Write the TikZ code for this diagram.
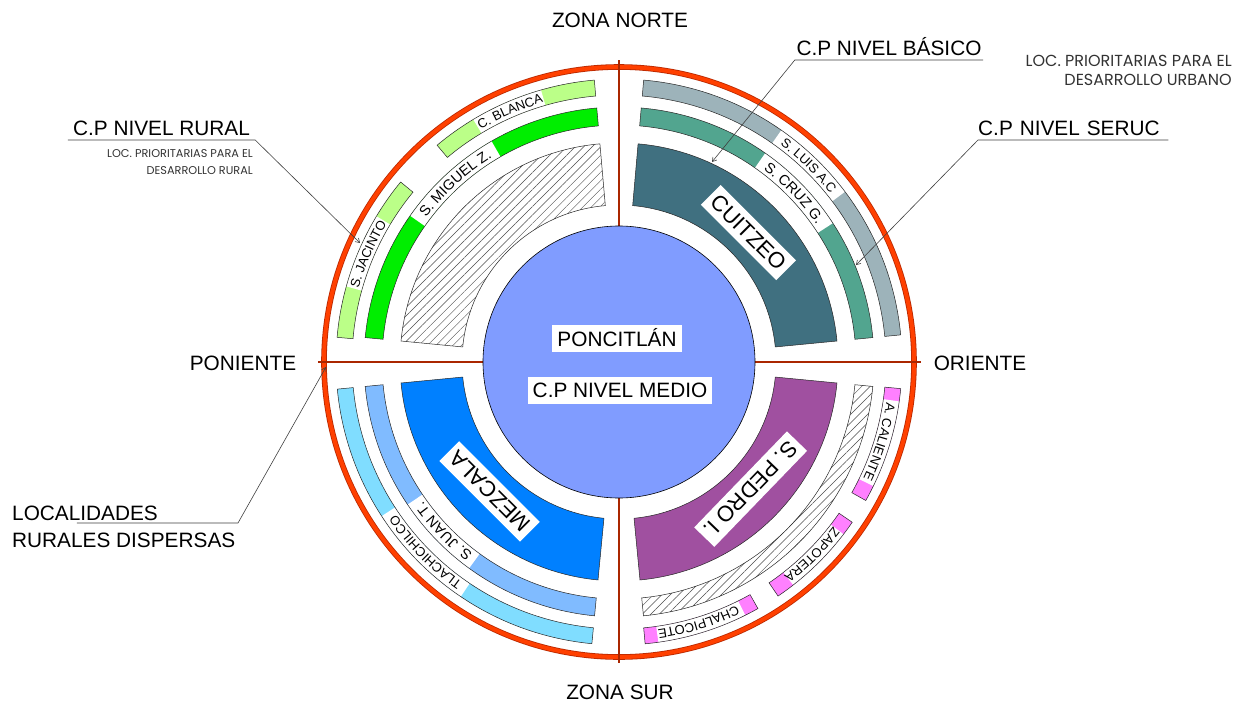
\documentclass[tikz,border=0pt]{standalone}
\usepackage{fontspec}
\setmainfont{Liberation Sans}
\newfontfamily\gothicfont{Poppins}
\usetikzlibrary{decorations.text,patterns.meta,arrows.meta}
\definecolor{ringred}{RGB}{255,64,0}
\definecolor{ringdark}{RGB}{185,40,0}
\definecolor{axisred}{RGB}{170,38,0}
\definecolor{centreblue}{RGB}{128,156,255}
\definecolor{cuitzeoc}{RGB}{64,112,128}
\definecolor{neMid}{RGB}{82,165,143}
\definecolor{neOut}{RGB}{157,179,186}
\definecolor{nwMid}{RGB}{0,238,0}
\definecolor{nwOut}{RGB}{187,255,136}
\definecolor{mezcalac}{RGB}{0,128,255}
\definecolor{swMid}{RGB}{128,187,255}
\definecolor{swOut}{RGB}{128,221,255}
\definecolor{pedroc}{RGB}{160,80,160}
\definecolor{sePink}{RGB}{255,128,255}
\newcommand\ringpiece[5]{\path[#5] (#3:#1) arc[start angle=#3,end angle=#4,radius=#1] -- (#4:#2) arc[start angle=#4,end angle=#3,radius=#2] -- cycle;}
\newcommand\arctext[5]{\path[decorate,decoration={text along path,text align=center,text={|\fontsize{#4}{#4}\selectfont|#5}}] (#2:#1) arc[start angle=#2,end angle=#3,radius=#1];}
\tikzset{
  outl/.style={draw=black!85, line width=0.5pt},
  hatch/.style={pattern={Lines[angle=45,distance=6pt,line width=0.45pt]}, pattern color=black!70},
  lbl/.style={font=\fontsize{20.8}{27}\selectfont, inner sep=0pt},
  whitebox/.style={fill=white, font=\fontsize{20.8}{22}\selectfont, inner xsep=5pt, inner ysep=0pt, minimum height=27pt},
  secbox/.style={fill=white, font=\fontsize{22}{24}\selectfont, inner xsep=5pt, inner ysep=0pt, minimum height=28pt},
  callout/.style={draw=black!75, line width=0.6pt},
  calloutarrow/.style={callout, -{Straight Barb[length=4pt,width=5pt]}},
  smallgothic/.style={align=right, inner sep=0pt, text=black!80},
}
\begin{document}
\begin{tikzpicture}[x=1pt,y=1pt]
\useasboundingbox (-619,-343) rectangle (627,362);
\fill[white] (-619,-343) rectangle (627,362);

% main sectors
\ringpiece{157}{219}{5.5}{85}{fill=cuitzeoc, outl}
\ringpiece{157}{219}{95}{174.5}{hatch, outl}
\ringpiece{157}{219}{185.5}{264.5}{fill=mezcalac, outl}
\ringpiece{157}{219}{275.5}{354.5}{fill=pedroc, outl}

% middle rings
\ringpiece{237}{255}{5.5}{85}{fill=neMid}
\ringpiece{237}{255}{33}{55}{fill=white}
\ringpiece{237}{255}{5.5}{85}{outl}
\ringpiece{237}{255}{95}{174.5}{fill=nwMid}
\ringpiece{237}{255}{120}{145}{fill=white}
\ringpiece{237}{255}{95}{174.5}{outl}
\ringpiece{237}{255}{185.5}{264.5}{fill=swMid}
\ringpiece{237}{255}{214}{234}{fill=white}
\ringpiece{237}{255}{185.5}{264.5}{outl}
\ringpiece{237}{255}{275.5}{354.5}{hatch, outl}

% outer rings
\ringpiece{267}{283}{5.5}{85}{fill=neOut}
\ringpiece{267}{283}{37}{55}{fill=white}
\ringpiece{267}{283}{5.5}{85}{outl}
\ringpiece{267}{283}{95}{130}{fill=nwOut}
\ringpiece{267}{283}{106}{121}{fill=white}
\ringpiece{267}{283}{95}{130}{outl}
\ringpiece{267}{283}{140.5}{175}{fill=nwOut}
\ringpiece{267}{283}{149}{164.5}{fill=white}
\ringpiece{267}{283}{140.5}{175}{outl}
\ringpiece{267}{283}{185.5}{264.5}{fill=swOut}
\ringpiece{267}{283}{213}{236}{fill=white}
\ringpiece{267}{283}{185.5}{264.5}{outl}
\ringpiece{267}{283}{330.7}{354.6}{fill=sePink}
\ringpiece{267}{283}{334}{352}{fill=white}
\ringpiece{267}{283}{330.7}{354.6}{outl}
\ringpiece{267}{283}{304.2}{325.5}{fill=sePink}
\ringpiece{267}{283}{308}{322.5}{fill=white}
\ringpiece{267}{283}{304.2}{325.5}{outl}
\ringpiece{267}{283}{275.3}{299.4}{fill=sePink}
\ringpiece{267}{283}{278}{296.5}{fill=white}
\ringpiece{267}{283}{275.3}{299.4}{outl}

% ring labels
\arctext{270.3}{60}{32}{13}{S. LUIS A.C}
\arctext{240.8}{60}{28}{14.5}{S. CRUZ G.}
\arctext{240.8}{150}{115}{14.5}{S. MIGUEL Z.}
\arctext{270.3}{126}{101}{13}{C. BLANCA}
\arctext{270.3}{169.5}{144}{13}{S. JACINTO}
\arctext{240.8}{239}{209}{14.5}{S. JUAN T.}
\arctext{270.3}{241}{208}{13}{TLACHICHILCO}
\arctext{270.3}{358}{328}{13}{A. CALIENTE}
\arctext{270.3}{330}{300}{13}{ZAPOTERA}
\arctext{270.3}{302}{272}{13}{CHALPICOTE}

% outer red circle and axes
\draw[ringdark, line width=5.6pt] (0,0) circle[radius=295];
\draw[ringred, line width=4pt] (0,0) circle[radius=295];
\draw[axisred, line width=2.6pt] (0,302) -- (0,-301);
\draw[axisred, line width=2.6pt] (-301,0) -- (302,0);

% centre
\fill[centreblue, draw=black, line width=0.6pt] (0,0) circle[radius=136];
\node[whitebox] (ponc) at (-2,24) {PONCITLÁN};
\node[whitebox] (medio) at (1,-28) {C.P NIVEL MEDIO};

% sector labels
\node[secbox, rotate=-45] (cuitzeo) at (45:183) {CUITZEO};
\node[secbox, rotate=135] (mezcala) at (225:183) {MEZCALA};
\node[secbox, rotate=226] (pedro) at (316:183) {S. PEDRO I.};

% zone labels
\node[lbl] (norte) at (1,342) {ZONA NORTE};
\node[lbl] (sur) at (1,-330) {ZONA SUR};
\node[lbl] (poniente) at (-376,-1) {PONIENTE};
\node[lbl] (oriente) at (361,-1) {ORIENTE};

% callouts
\coordinate (tRural) at (-259,119);
\coordinate (tBasico) at (93,200);
\coordinate (tSeruc) at (237,97);
\coordinate (tLoc) at (-293,-5);

\node[lbl, minimum width=187pt, anchor=south, inner ysep=4pt] (rural) at (-457.5,222) {C.P NIVEL RURAL};
\draw[calloutarrow] (rural.south west) -- (rural.south east) -- (tRural);
\node[smallgothic, font=\gothicfont\fontsize{11.3}{17}\selectfont, anchor=north east] (rurnote) at (-366,213) {LOC. PRIORITARIAS PARA EL\\DESARROLLO RURAL};

\node[lbl, minimum width=188pt, anchor=south, inner ysep=4pt] (basico) at (270,302) {C.P NIVEL BÁSICO};
\draw[calloutarrow] (basico.south east) -- (basico.south west) -- (tBasico);
\node[smallgothic, font=\gothicfont\fontsize{16}{19}\selectfont, anchor=north east] (urbnote) at (613,307) {LOC. PRIORITARIAS PARA EL\\DESARROLLO URBANO};

\node[lbl, text width=190pt, align=left, anchor=south west, inner ysep=4pt] (seruc) at (359,222) {C.P NIVEL SERUC};
\draw[calloutarrow] (seruc.south east) -- (seruc.south west) -- (tSeruc);

\node[lbl, align=left, anchor=north west] (loc) at (-607,-143.5) {LOCALIDADES\\RURALES DISPERSAS};
\coordinate (locA) at (-542,-161);
\coordinate (locB) at (-381,-161);
\draw[calloutarrow] (locA) -- (locB) -- (tLoc);
\end{tikzpicture}
\end{document}
